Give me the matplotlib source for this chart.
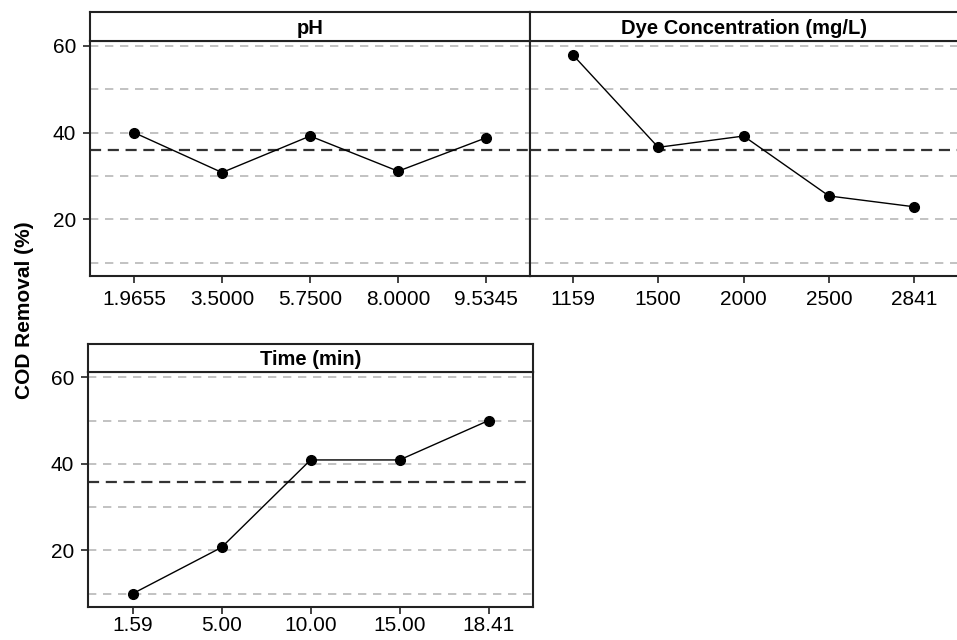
import matplotlib
matplotlib.use("Agg")
import matplotlib.pyplot as plt

plt.rcParams['font.family'] = ['Liberation Sans', 'DejaVu Sans']

# main effects data
ph_levels = ['1.9655', '3.5000', '5.7500', '8.0000', '9.5345']
ph_removal = [40.0, 30.8, 39.2, 31.1, 38.8]

dye_levels = ['1159', '1500', '2000', '2500', '2841']
dye_removal = [57.9, 36.6, 39.2, 25.4, 22.9]

time_levels = ['1.59', '5.00', '10.00', '15.00', '18.41']
time_removal = [10.0, 20.7, 40.9, 40.9, 50.0]

grand_mean = 35.9
grid_levels = [10, 20, 30, 40, 50, 60]
ytick_vals = [20, 40, 60]


def draw_panel(fig, rect, strip_h, title, levels, values, show_yticks,
               open_right=False, xpad=5):
    ax = fig.add_axes(rect)
    x = list(range(len(levels)))
    for g in grid_levels:
        ax.axhline(g, color='#b8b8b8', lw=1.2, ls=(0, (5, 4)), zorder=1)
    ax.axhline(grand_mean, color='#333333', lw=1.6, ls=(0, (5, 3)), zorder=2)
    ax.plot(x, values, color='black', lw=1.0, marker='o', markersize=7, zorder=3)
    ax.set_xlim(-0.5, len(levels) - 0.5)
    ax.set_ylim(7.0, 61.1)
    ax.set_xticks(x)
    ax.set_xticklabels(levels, fontsize=15)
    if show_yticks:
        ax.set_yticks(ytick_vals)
        ax.set_yticklabels([str(v) for v in ytick_vals], fontsize=15)
    else:
        ax.set_yticks([])
    ax.tick_params(direction='out', length=5, width=1.2, color='#222222', pad=5)
    ax.tick_params(axis='x', pad=xpad)
    for s in ax.spines.values():
        s.set_linewidth(1.5)
        s.set_color('#222222')

    # title strip above the panel
    sx = fig.add_axes([rect[0], rect[1] + rect[3], rect[2], strip_h])
    sx.set_xticks([])
    sx.set_yticks([])
    for s in sx.spines.values():
        s.set_linewidth(1.5)
        s.set_color('#222222')
    if open_right:
        ax.spines['right'].set_visible(False)
        sx.spines['right'].set_visible(False)
    sx.text(0.5, 0.45, title, ha='center', va='center', fontsize=14.5, fontweight='bold',
            transform=sx.transAxes)
    return ax


def main():
    fig = plt.figure(figsize=(9.57, 6.4), dpi=100)

    draw_panel(fig, [0.094, 0.569, 0.460, 0.367], 0.045, 'pH', ph_levels, ph_removal, True)
    draw_panel(fig, [0.554, 0.569, 0.446, 0.367], 0.045, 'Dye Concentration (mg/L)',
               dye_levels, dye_removal, False, open_right=True)
    draw_panel(fig, [0.092, 0.052, 0.465, 0.366], 0.044, 'Time (min)',
               time_levels, time_removal, True, xpad=2)

    fig.text(0.026, 0.515, 'COD Removal (%)', rotation=90, ha='center', va='center',
             fontsize=15, fontweight='bold')

    fig.savefig('out.png', dpi=100)
    plt.close(fig)


main()
